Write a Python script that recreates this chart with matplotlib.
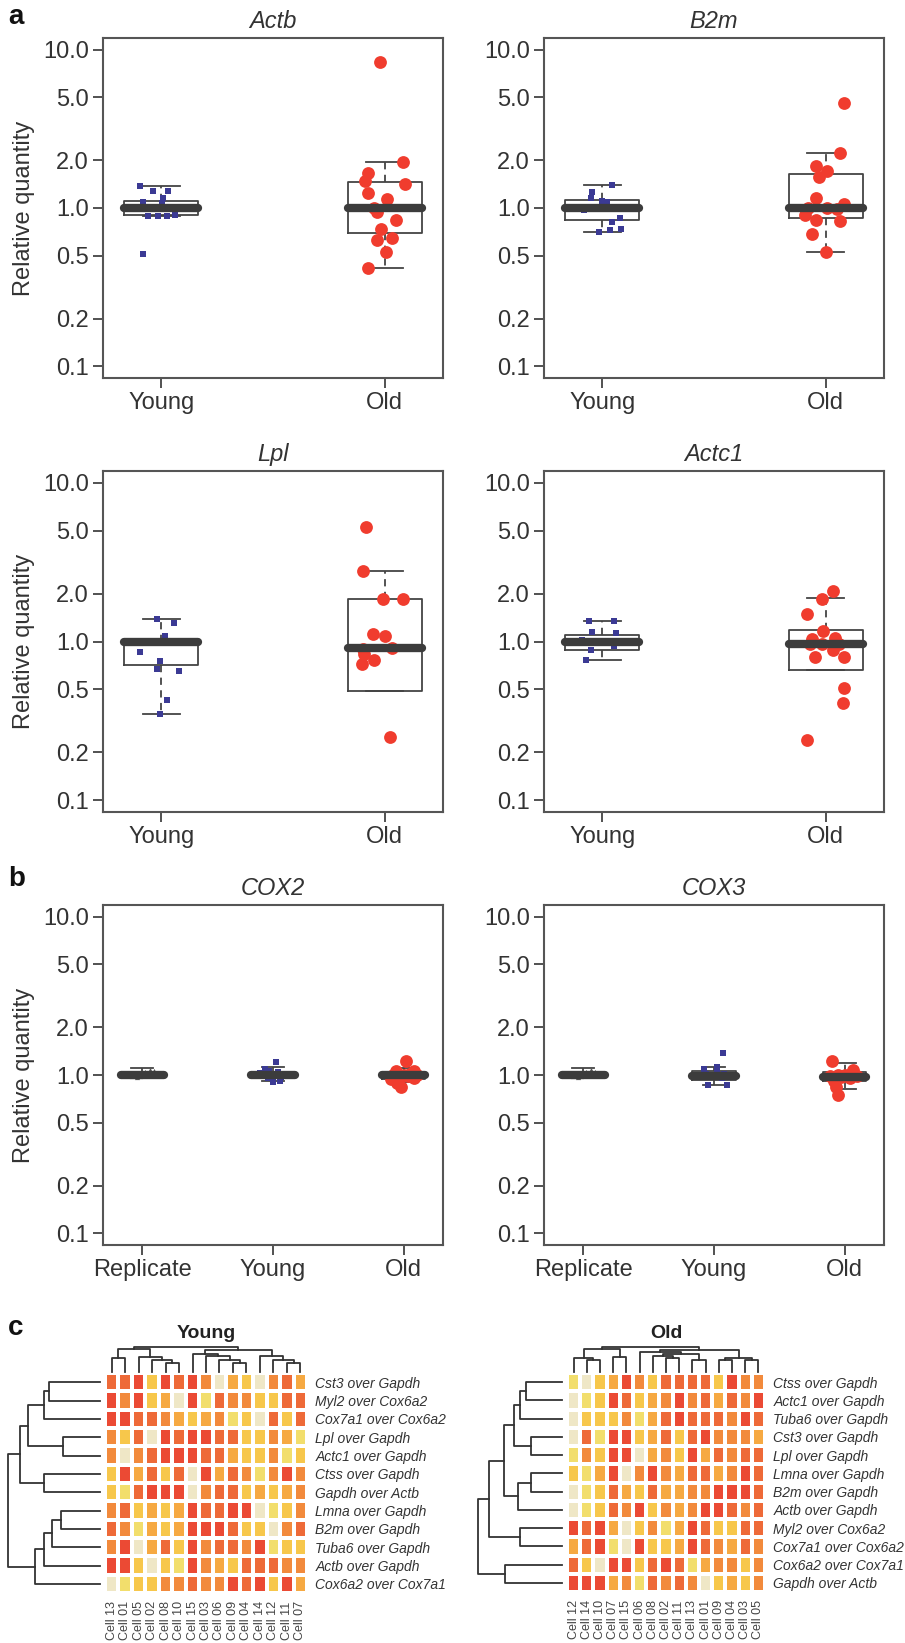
import matplotlib
matplotlib.use("Agg")
import matplotlib.pyplot as plt
import numpy as np
from matplotlib.colors import ListedColormap

plt.rcParams['font.family'] = ['Liberation Sans', 'DejaVu Sans']

# ---- panel a / b : relative quantity (log scale) ----
yticks = [0.1, 0.2, 0.5, 1.0, 2.0, 5.0, 10.0]
ytick_labels = ['0.1', '0.2', '0.5', '1.0', '2.0', '5.0', '10.0']

# box stats are [whislo, q1, median, q3, whishi]
actb_young = [1.38, 1.29, 1.29, 1.16, 1.09, 1.08, 0.89, 0.89, 0.89, 0.90, 0.51, 1.0, 0.98, 1.02, 1.0]
actb_young_x = [-0.093, -0.036, 0.031, 0.009, -0.08, 0.004, -0.058, -0.013, 0.027, 0.062, -0.08, -0.1, -0.03, 0.05, 0.1]
actb_young_box = [0.89, 0.90, 1.0, 1.11, 1.38]
actb_old = [8.4, 1.94, 1.66, 1.49, 1.42, 1.24, 1.14, 0.95, 0.84, 0.74, 0.63, 0.65, 0.53, 0.42, 1.0]
actb_old_x = [-0.022, 0.08, -0.075, -0.089, 0.088, -0.075, 0.01, -0.035, 0.048, -0.015, -0.035, 0.03, 0.004, -0.075, -0.05]
actb_old_box = [0.42, 0.69, 1.0, 1.47, 1.94]

b2m_young = [1.40, 1.27, 1.15, 1.10, 1.09, 0.97, 0.87, 0.81, 0.70, 0.73, 0.74, 1.0, 1.0, 1.0, 0.99]
b2m_young_x = [0.044, -0.047, -0.052, 0.0, 0.02, -0.08, 0.08, 0.045, -0.012, 0.036, 0.084, -0.1, -0.03, 0.05, 0.1]
b2m_young_box = [0.70, 0.84, 1.0, 1.12, 1.40]
b2m_old = [4.64, 2.22, 1.83, 1.71, 1.58, 1.16, 1.06, 1.0, 0.90, 0.84, 0.83, 0.68, 0.53, 1.0, 0.98]
b2m_old_x = [0.081, 0.065, -0.046, 0.006, -0.03, -0.046, 0.081, 0.007, -0.093, -0.046, 0.062, -0.064, 0.0, -0.08, 0.05]
b2m_old_box = [0.53, 0.87, 1.0, 1.64, 2.22]

lpl_young = [1.38, 1.31, 1.09, 0.98, 0.86, 0.75, 0.67, 0.65, 0.43, 0.35, 1.0, 1.0, 1.0, 1.0, 1.0]
lpl_young_x = [-0.018, 0.058, 0.018, 0.076, -0.096, -0.003, -0.018, 0.08, 0.028, -0.003, -0.09, -0.04, 0.0, 0.04, 0.09]
lpl_young_box = [0.35, 0.71, 1.0, 1.0, 1.38]
lpl_old = [5.29, 2.77, 1.86, 1.86, 1.11, 1.09, 0.90, 0.84, 0.77, 0.72, 0.25, 0.91]
lpl_old_x = [-0.086, -0.096, -0.009, 0.081, -0.053, 0.0, -0.096, -0.093, -0.049, -0.1, 0.022, 0.03]
lpl_old_box = [0.49, 0.49, 0.91, 1.86, 2.77]

actc1_young = [1.35, 1.35, 1.15, 1.13, 1.02, 0.93, 0.89, 0.77, 1.0, 1.0, 1.0, 1.0, 1.0, 1.0, 1.0]
actc1_young_x = [-0.059, 0.055, -0.044, 0.061, -0.089, 0.052, -0.052, -0.074, -0.1, -0.06, -0.02, 0.02, 0.06, 0.1, 0.0]
actc1_young_box = [0.77, 0.89, 1.0, 1.10, 1.35]
actc1_old = [2.08, 1.86, 1.50, 1.17, 1.03, 1.05, 0.97, 0.89, 0.80, 0.80, 0.51, 0.41, 0.24, 0.96, 0.96]
actc1_old_x = [0.033, -0.016, -0.086, -0.012, -0.064, 0.04, -0.015, 0.033, -0.049, 0.08, 0.08, 0.077, -0.083, -0.07, 0.06]
actc1_old_box = [0.66, 0.66, 0.96, 1.19, 1.88]

cox2_rep = [1.0, 1.02, 0.98, 1.05, 1.07, 1.0, 0.99, 1.03, 1.01, 0.97, 1.06, 1.0]
cox2_rep_x = [-0.1, -0.06, -0.02, 0.02, 0.06, 0.1, -0.08, 0.04, 0.08, -0.04, 0.09, 0.0]
cox2_rep_box = [0.97, 0.99, 1.0, 1.01, 1.10]
cox2_young = [1.20, 1.09, 0.90, 1.03, 0.98, 1.0, 1.01, 0.97, 1.02, 0.99, 1.0, 1.04, 0.96, 0.92, 1.06]
cox2_young_x = [0.025, -0.064, 0.0, -0.1, -0.06, -0.02, 0.02, 0.06, 0.1, -0.08, 0.08, 0.04, -0.04, 0.05, -0.03]
cox2_young_box = [0.91, 0.97, 1.0, 1.04, 1.12]
cox2_old = [1.22, 1.06, 1.06, 0.96, 0.885, 0.84, 0.94, 1.0, 1.0, 1.02, 0.98, 1.0, 0.99, 1.01]
cox2_old_x = [0.02, -0.06, 0.08, 0.08, -0.05, -0.02, -0.1, -0.08, 0.0, 0.05, -0.03, 0.1, 0.03, -0.05]
cox2_old_box = [0.90, 0.95, 1.0, 1.04, 1.10]

cox3_rep = [1.0, 1.01, 0.99, 1.04, 1.08, 1.0, 0.98, 1.02, 1.0, 0.97, 1.05, 1.0]
cox3_rep_x = [-0.1, -0.06, -0.02, 0.02, 0.06, 0.1, -0.08, 0.04, 0.08, -0.04, 0.09, 0.0]
cox3_rep_box = [0.97, 0.99, 1.0, 1.02, 1.10]
cox3_young = [1.38, 1.12, 1.09, 0.86, 0.86, 1.0, 1.02, 0.98, 1.04, 0.96, 1.0, 1.0, 0.99, 1.01, 1.0]
cox3_young_x = [0.071, 0.02, -0.08, -0.043, 0.097, -0.1, -0.06, -0.02, 0.02, 0.06, 0.1, 0.04, -0.04, 0.08, 0.0]
cox3_young_box = [0.86, 0.93, 0.99, 1.065, 1.12]
cox3_old = [1.23, 1.08, 0.99, 0.84, 0.75, 0.96, 1.0, 0.97, 1.02, 0.92, 0.98, 1.0]
cox3_old_x = [-0.094, 0.064, -0.115, -0.064, -0.051, 0.04, 0.0, -0.03, 0.05, -0.08, 0.09, -0.05]
cox3_old_box = [0.82, 0.92, 0.975, 1.04, 1.19]

# ---- panel c : heatmaps (colour level 0 = pale ... 6 = red) ----
young_cells = ['Cell 13', 'Cell 01', 'Cell 05', 'Cell 02', 'Cell 08', 'Cell 10', 'Cell 15', 'Cell 03',
               'Cell 06', 'Cell 09', 'Cell 04', 'Cell 14', 'Cell 12', 'Cell 11', 'Cell 07']
young_rows = ['Cst3 over Gapdh', 'Myl2 over Cox6a2', 'Cox7a1 over Cox6a2', 'Lpl over Gapdh',
              'Actc1 over Gapdh', 'Ctss over Gapdh', 'Gapdh over Actb', 'Lmna over Gapdh',
              'B2m over Gapdh', 'Tuba6 over Gapdh', 'Actb over Gapdh', 'Cox6a2 over Cox7a1']
young_levels = [
    [5, 5, 6, 2, 6, 5, 6, 4, 0, 3, 2, 0, 4, 5, 3],
    [6, 4, 6, 2, 3, 0, 6, 1, 5, 4, 4, 2, 2, 5, 5],
    [6, 6, 5, 5, 4, 3, 2, 3, 4, 1, 2, 0, 5, 2, 5],
    [4, 2, 5, 0, 6, 5, 6, 6, 5, 5, 2, 2, 4, 3, 1],
    [4, 0, 4, 5, 6, 6, 6, 5, 5, 3, 2, 2, 4, 1, 2],
    [2, 6, 3, 5, 2, 5, 0, 6, 3, 5, 4, 1, 4, 6, 4],
    [2, 1, 5, 6, 6, 6, 0, 4, 5, 5, 2, 3, 2, 3, 4],
    [4, 5, 2, 3, 2, 3, 6, 5, 5, 6, 6, 0, 1, 2, 4],
    [5, 4, 1, 3, 2, 3, 6, 6, 6, 5, 2, 2, 0, 4, 5],
    [4, 6, 0, 3, 5, 2, 6, 4, 5, 5, 4, 6, 1, 2, 2],
    [6, 6, 2, 0, 2, 1, 6, 4, 3, 2, 5, 5, 5, 4, 4],
    [0, 1, 2, 2, 4, 4, 5, 4, 4, 6, 5, 6, 2, 6, 3],
]
old_cells = ['Cell 12', 'Cell 14', 'Cell 10', 'Cell 07', 'Cell 15', 'Cell 06', 'Cell 08', 'Cell 02',
             'Cell 11', 'Cell 13', 'Cell 01', 'Cell 09', 'Cell 04', 'Cell 03', 'Cell 05']
old_rows = ['Ctss over Gapdh', 'Actc1 over Gapdh', 'Tuba6 over Gapdh', 'Cst3 over Gapdh',
            'Lpl over Gapdh', 'Lmna over Gapdh', 'B2m over Gapdh', 'Actb over Gapdh',
            'Myl2 over Cox6a2', 'Cox7a1 over Cox6a2', 'Cox6a2 over Cox7a1', 'Gapdh over Actb']
old_levels = [
    [1, 0, 2, 3, 6, 4, 2, 5, 5, 5, 5, 2, 6, 4, 4],
    [0, 1, 2, 6, 5, 2, 3, 4, 6, 4, 5, 3, 5, 4, 6],
    [0, 2, 2, 2, 4, 1, 3, 5, 6, 5, 5, 5, 4, 6, 5],
    [0, 5, 1, 6, 6, 2, 3, 5, 2, 5, 6, 4, 4, 4, 3],
    [1, 4, 2, 6, 6, 0, 3, 4, 2, 6, 3, 5, 4, 5, 5],
    [2, 1, 3, 6, 0, 4, 6, 4, 3, 5, 5, 3, 4, 6, 5],
    [0, 1, 2, 5, 3, 2, 5, 3, 3, 4, 4, 6, 6, 6, 5],
    [0, 1, 2, 5, 4, 6, 2, 4, 3, 4, 6, 6, 5, 4, 5],
    [6, 5, 6, 3, 0, 2, 4, 1, 3, 6, 5, 2, 2, 5, 5],
    [3, 5, 6, 1, 0, 6, 2, 2, 3, 6, 5, 4, 3, 5, 4],
    [5, 2, 0, 6, 6, 2, 5, 6, 5, 1, 3, 4, 4, 2, 4],
    [6, 6, 6, 3, 4, 1, 5, 4, 5, 4, 0, 2, 3, 2, 4],
]
# dendrogram merges: (left id, right id, height); new cluster ids follow the leaves
young_row_tree = [(0, 1, 150), (12, 2, 165), (3, 4, 110), (13, 14, 210), (5, 6, 165), (15, 16, 235),
                  (7, 8, 115), (18, 9, 140), (19, 10, 165), (20, 11, 190), (17, 21, 270)]
old_row_tree = [(0, 1, 110), (12, 2, 130), (3, 4, 95), (13, 14, 150), (5, 6, 95), (16, 7, 135),
                (15, 17, 180), (8, 9, 130), (18, 19, 225), (10, 11, 175), (20, 21, 260)]
young_col_tree = [(4, 5, 30), (3, 15, 40), (2, 16, 48), (0, 1, 45), (18, 17, 75), (9, 10, 30),
                  (8, 20, 40), (7, 21, 50), (6, 22, 58), (13, 14, 30), (12, 24, 38), (11, 25, 50),
                  (23, 26, 70), (19, 27, 80)]
old_col_tree = [(1, 2, 40), (0, 15, 45), (3, 4, 48), (16, 17, 75), (7, 8, 45), (6, 19, 50),
                (9, 10, 40), (20, 21, 58), (5, 22, 65), (11, 12, 40), (13, 14, 38), (24, 25, 45),
                (23, 26, 70), (18, 27, 80)]

heat_colors = ['#efe7c6', '#f2de6c', '#f7c74b', '#f6a942', '#f28a3c', '#ee6a38', '#eb4a34']

W, H = 905, 1643
fig = plt.figure(figsize=(W / 100, H / 100), dpi=100)
fig.patch.set_facecolor('white')

def add_ax(left, top, right, bottom):
    return fig.add_axes([left / W, 1 - bottom / H, (right - left) / W, (bottom - top) / H])

group_style = {
    'Replicate': dict(marker='^', s=14, color='#555555'),
    'Young': dict(marker='s', s=20, color='#3b3a94'),
    'Old': dict(marker='o', s=85, color='#f03c2e'),
}
edge = '#444444'

def box_panel(ax, title, groups, ylabel):
    n = len(groups)
    stats = []
    for name, vals, jit, b in groups:
        stats.append(dict(whislo=b[0], q1=b[1], med=b[2], q3=b[3], whishi=b[4], fliers=[]))
    pos = np.arange(1, n + 1)
    ax.bxp(stats, positions=pos, widths=0.33, showfliers=False,
           boxprops=dict(color=edge, lw=1.3),
           whiskerprops=dict(color=edge, lw=1.3, linestyle=(0, (4, 3))),
           capprops=dict(color=edge, lw=1.3),
           medianprops=dict(color='#3c3c3c', lw=6, solid_capstyle='round', zorder=5))
    for p, (name, vals, jit, b) in zip(pos, groups):
        st = group_style[name]
        ax.scatter(p + np.array(jit), vals, marker=st['marker'], s=st['s'], color=st['color'],
                   linewidths=0, zorder=4)
    ax.set_yscale('log')
    ax.set_ylim(10 ** -1.075, 10 ** 1.075)
    ax.set_yticks(yticks)
    ax.set_yticklabels(ytick_labels)
    ax.minorticks_off()
    ax.set_xlim(0.74, 2.26) if n == 2 else ax.set_xlim(0.70, 3.30)
    ax.set_xticks(pos)
    ax.set_xticklabels([g[0] for g in groups])
    ax.tick_params(labelsize=17, colors='#333333', length=7, width=1.2, pad=3)
    for s in ax.spines.values():
        s.set_color('#555555')
        s.set_linewidth(1.5)
    ax.set_title(title, style='italic', fontsize=17, color='#333333', pad=7)
    if ylabel:
        ax.set_ylabel('Relative quantity', fontsize=17, color='#333333', labelpad=6)

cols = [(103, 443), (544, 884)]
rows = [(38, 378), (471, 812), (905, 1245)]

ax = add_ax(cols[0][0], rows[0][0], cols[0][1], rows[0][1])
box_panel(ax, 'Actb', [('Young', actb_young, actb_young_x, actb_young_box),
                       ('Old', actb_old, actb_old_x, actb_old_box)], True)
ax = add_ax(cols[1][0], rows[0][0], cols[1][1], rows[0][1])
box_panel(ax, 'B2m', [('Young', b2m_young, b2m_young_x, b2m_young_box),
                      ('Old', b2m_old, b2m_old_x, b2m_old_box)], False)
ax = add_ax(cols[0][0], rows[1][0], cols[0][1], rows[1][1])
box_panel(ax, 'Lpl', [('Young', lpl_young, lpl_young_x, lpl_young_box),
                      ('Old', lpl_old, lpl_old_x, lpl_old_box)], True)
ax = add_ax(cols[1][0], rows[1][0], cols[1][1], rows[1][1])
box_panel(ax, 'Actc1', [('Young', actc1_young, actc1_young_x, actc1_young_box),
                        ('Old', actc1_old, actc1_old_x, actc1_old_box)], False)
ax = add_ax(cols[0][0], rows[2][0], cols[0][1], rows[2][1])
box_panel(ax, 'COX2', [('Replicate', cox2_rep, cox2_rep_x, cox2_rep_box),
                       ('Young', cox2_young, cox2_young_x, cox2_young_box),
                       ('Old', cox2_old, cox2_old_x, cox2_old_box)], True)
ax = add_ax(cols[1][0], rows[2][0], cols[1][1], rows[2][1])
box_panel(ax, 'COX3', [('Replicate', cox3_rep, cox3_rep_x, cox3_rep_box),
                       ('Young', cox3_young, cox3_young_x, cox3_young_box),
                       ('Old', cox3_old, cox3_old_x, cox3_old_box)], False)

# ---- heatmaps with dendrograms ----
def draw_tree(ax, merges, n, side):
    pos = [i + 0.5 for i in range(n)]
    hgt = [0.0] * n
    for a, b, h in merges:
        if side == 'left':
            ax.plot([hgt[a], h, h, hgt[b]], [pos[a], pos[a], pos[b], pos[b]],
                    color='#333333', lw=1.3, clip_on=False)
        else:
            ax.plot([pos[a], pos[a], pos[b], pos[b]], [hgt[a], h, h, hgt[b]],
                    color='#333333', lw=1.3, clip_on=False)
        pos.append((pos[a] + pos[b]) / 2)
        hgt.append(h)
    top = max(hgt)
    if side == 'left':
        ax.set_xlim(top, 0)
        ax.set_ylim(n, 0)
    else:
        ax.set_xlim(0, n)
        ax.set_ylim(0, top)
    ax.set_axis_off()

cmap = ListedColormap(heat_colors)

def heat_panel(levels, cells, genes, row_tree, col_tree, hm_box, row_x0, title):
    l, t, r, b = hm_box
    ax = add_ax(l, t, r, b)
    m = np.array(levels)
    ax.pcolormesh(m, cmap=cmap, vmin=-0.5, vmax=6.5, edgecolors='white', linewidth=1.6)
    ax.set_xlim(0, m.shape[1])
    ax.set_ylim(m.shape[0], 0)
    ax.set_xticks(np.arange(m.shape[1]) + 0.5)
    ax.set_xticklabels(cells, rotation=90, fontsize=9, color='#444444')
    ax.set_yticks(np.arange(m.shape[0]) + 0.5)
    ax.set_yticklabels(genes, fontsize=10, style='italic', color='#333333')
    ax.yaxis.tick_right()
    ax.tick_params(length=0, pad=6)
    for s in ax.spines.values():
        s.set_visible(False)
    draw_tree(add_ax(row_x0, t, l - 5, b), row_tree, m.shape[0], 'left')
    draw_tree(add_ax(l, t - 26, r, t - 1), col_tree, m.shape[1], 'top')
    fig.text((l + r) / 2 / W, 1 - 1333 / H, title, ha='center', va='center',
             fontsize=14, fontweight='bold', color='#222222')

heat_panel(young_levels, young_cells, young_rows, young_row_tree, young_col_tree,
           (105, 1373, 307, 1593), 8, 'Young')
heat_panel(old_levels, old_cells, old_rows, old_row_tree, old_col_tree,
           (567, 1373, 765, 1592), 478, 'Old')

# panel letters
for letter, ypx in [('a', 17), ('b', 879), ('c', 1328)]:
    fig.text(8 / W, 1 - ypx / H, letter, ha='left', va='center', fontsize=20,
             fontweight='bold', color='#111111')

fig.savefig('out.png', dpi=100)
